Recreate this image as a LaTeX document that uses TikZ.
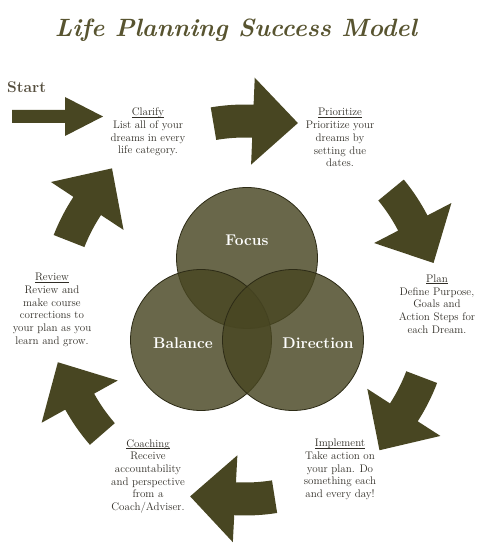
\documentclass[tikz,border=0pt]{standalone}
\definecolor{olivedark}{RGB}{72,70,34}
\definecolor{vennline}{RGB}{45,43,22}
\definecolor{titleolive}{RGB}{88,84,48}
\definecolor{startgray}{RGB}{85,78,62}
\definecolor{notegray}{RGB}{48,45,38}
\newcommand{\stephead}[1]{{\setbox0\hbox{#1}\rlap{\rule[-1.6pt]{\wd0}{0.5pt}}\box0}}
\begin{document}
\begin{tikzpicture}[
    x=1pt,y=1pt,
    blockarrow/.style={fill=olivedark},
    venn/.style={circle,draw=vennline,line width=0.8pt,fill=olivedark,fill opacity=0.82,minimum size=141pt,inner sep=0pt},
    vennlabel/.style={text=white,font=\fontsize{15.5}{18}\selectfont\bfseries},
    stepnote/.style={align=center,text=notegray,font=\fontsize{11}{12.7}\selectfont,inner sep=0pt}
]
    \useasboundingbox (0,0) rectangle (488,552);

    % Title and start
    \node[font=\fontsize{25}{29}\selectfont\bfseries\itshape,text=titleolive] (title) at (236,522) {Life Planning Success Model};
    \node[font=\fontsize{15.5}{18}\selectfont\bfseries,text=startgray,anchor=base west,inner sep=0pt] (start) at (7,459) {Start};
    \fill[blockarrow] (12,429) -- (65,429) -- (65,416) -- (103,435.5) -- (65,455) -- (65,442) -- (12,442) -- cycle;

    % Curved arrows round the cycle
    \begin{scope}[shift={(245,242)}]
        \foreach \b in {87.6,27.4,-32.8,-93,-151,146.6}
            \fill[blockarrow] ({\b+12}:205.5) arc[start angle=\b+12, end angle=\b, radius=205.5]
                -- (\b:232.5) -- ({\b-13.4}:194.3) -- (\b:145.5) -- (\b:172.5)
                arc[start angle=\b, end angle=\b+12, radius=172.5] -- cycle;
    \end{scope}

    % Venn circles
    \node[venn] (focus) at (247,294) {};
    \node[venn] (balance) at (201,212) {};
    \node[venn] (direction) at (293,212) {};
    \node[vennlabel] (focuslbl) at (247,312) {Focus};
    \node[vennlabel] (balancelbl) at (183,209) {Balance};
    \node[vennlabel] (directionlbl) at (318,209) {Direction};

    % Steps
    \node[stepnote] (clarify) at (148,420) {\stephead{Clarify}\\List all of your\\dreams in every\\life category.};
    \node[stepnote] (prioritize) at (340,414.3) {\stephead{Prioritize}\\Prioritize your\\dreams by\\setting due\\dates.};
    \node[stepnote] (plan) at (437,248) {\stephead{Plan}\\Define Purpose,\\Goals and\\Action Steps for\\each Dream.};
    \node[stepnote] (implement) at (340,82.5) {\stephead{Implement}\\Take action on\\your plan. Do\\something each\\and every day!};
    \node[stepnote] (coaching) at (148,75.7) {\stephead{Coaching}\\Receive\\accountability\\and perspective\\from a\\Coach/Adviser.};
    \node[stepnote] (review) at (52,242) {\stephead{Review}\\Review and\\make course\\corrections to\\your plan as you\\learn and grow.};
\end{tikzpicture}
\end{document}
